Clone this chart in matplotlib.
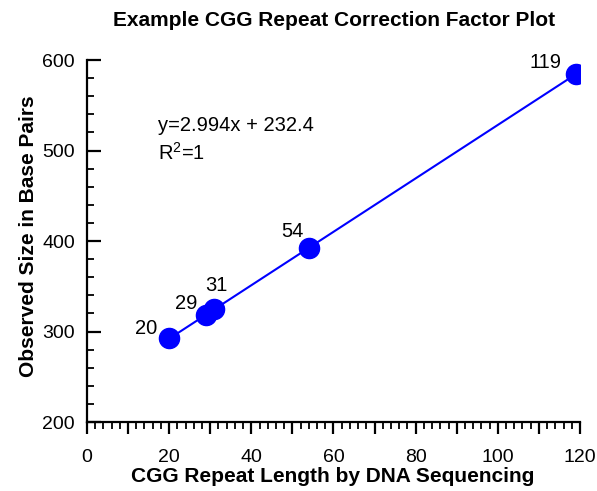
import numpy as np
import matplotlib
matplotlib.use("Agg")
import matplotlib.pyplot as plt
from matplotlib.ticker import MultipleLocator, FuncFormatter

plt.rcParams['font.family'] = ['Liberation Sans', 'DejaVu Sans']
plt.rcParams['mathtext.fontset'] = 'custom'
plt.rcParams['mathtext.rm'] = 'Liberation Sans'

# data
repeat_len = [20, 29, 31, 54, 119]
observed_size = [292.5, 318, 325, 392, 584.5]
point_labels = ['20', '29', '31', '54', '119']
# where each label sits relative to its point (offset points)
label_offsets = [(-16.5, 7), (-14, 8.5), (1.5, 17), (-12, 12), (-22, 8)]

fig = plt.figure(figsize=(5.97, 4.91), dpi=100)
ax = fig.add_axes([0.1457, 0.1405, 0.8258, 0.7373])

# regression line through the points
slope, icept = np.polyfit(repeat_len, observed_size, 1)
xl = np.array([min(repeat_len), max(repeat_len)])
ax.plot(xl, slope * xl + icept, color='#0000ff', lw=1.5, zorder=2)
ax.plot(repeat_len, observed_size, 'o', color='#0000ff', ms=14.5, zorder=3)

for x, y, lab, off in zip(repeat_len, observed_size, point_labels, label_offsets):
    ax.annotate(lab, (x, y), xytext=off, textcoords='offset points',
                ha='center', va='center', fontsize=14.5)

ax.text(17.4, 521.5, 'y=2.994x + 232.4', fontsize=14.5, va='baseline')
ax.text(17.4, 489.5, r'R$^{\mathrm{2}}$=1', fontsize=14.5, va='baseline')

ax.set_xlim(0, 120)
ax.set_ylim(200, 600)
for s in ['top', 'right']:
    ax.spines[s].set_visible(False)
ax.spines['left'].set_linewidth(1.6)
ax.spines['bottom'].set_linewidth(1.6)

ax.xaxis.set_major_locator(MultipleLocator(10))
ax.xaxis.set_minor_locator(MultipleLocator(2))
ax.xaxis.set_major_formatter(FuncFormatter(lambda v, p: '%d' % v if v % 20 == 0 else ''))
ax.yaxis.set_major_locator(MultipleLocator(100))
ax.yaxis.set_minor_locator(MultipleLocator(20))

ax.tick_params(axis='x', which='major', direction='out', length=8.6, width=1.6, pad=11, labelsize=14)
ax.tick_params(axis='x', which='minor', direction='out', length=5, width=1.3)
ax.tick_params(axis='y', which='major', direction='in', length=10, width=1.6, pad=8.6, labelsize=14)
ax.tick_params(axis='y', which='minor', direction='in', length=5, width=1.3)

ax.set_xlabel('CGG Repeat Length by DNA Sequencing', fontsize=15, fontweight='bold')
ax.set_ylabel('Observed Size in Base Pairs', fontsize=15, fontweight='bold')
ax.xaxis.set_label_coords(0.499, -0.124)
ax.yaxis.set_label_coords(-0.099, 0.512)
fig.text(0.56, 0.959, 'Example CGG Repeat Correction Factor Plot', ha='center', va='center',
         fontsize=15, fontweight='bold')

fig.savefig('out.png', dpi=100)
